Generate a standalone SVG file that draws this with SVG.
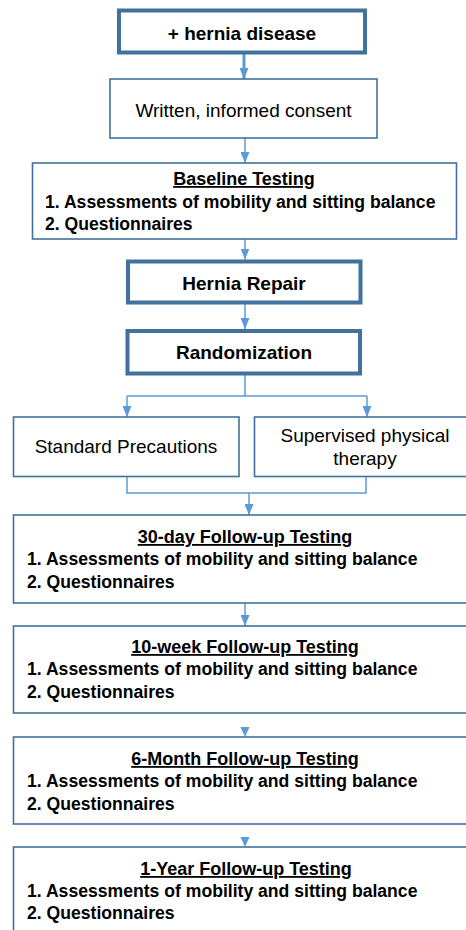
<svg xmlns="http://www.w3.org/2000/svg" width="466" height="930" viewBox="0 0 466 930">
<defs>
<style>
text{font-family:"Liberation Sans",Arial,sans-serif;fill:#000}
.thick{fill:#fff;stroke:#41719C;stroke-width:4}
.thin{fill:#fff;stroke:#41719C;stroke-width:1.6}
.t19{font-size:19px;text-anchor:middle}
.b{font-weight:bold}
.h{font-size:18px;font-weight:bold;text-anchor:middle;text-decoration:underline}
.li{font-size:17.6px;font-weight:bold}
.c{fill:none;stroke:#5B9BD5;stroke-width:1.5}
.head{fill:#5B9BD5}
</style>
<marker id="ah" markerWidth="11" markerHeight="9" refX="11" refY="4.5" orient="auto" markerUnits="userSpaceOnUse">
<path d="M0,0 L11,4.5 L0,9 Z" fill="#5B9BD5"/>
</marker>
</defs>
<g id="connectors">
<line class="c" x1="244" y1="54" x2="244" y2="79" style="stroke-width:3" marker-end="url(#ah)"/>
<line class="c" x1="245" y1="138" x2="245" y2="163" marker-end="url(#ah)"/>
<line class="c" x1="245" y1="239" x2="245" y2="259.5" marker-end="url(#ah)"/>
<line class="c" x1="245" y1="303" x2="245" y2="329" marker-end="url(#ah)"/>
<path class="c" d="M245,375 V396 M127,396 H367"/>
<line class="c" x1="127" y1="396" x2="127" y2="417" marker-end="url(#ah)"/>
<line class="c" x1="367" y1="396" x2="367" y2="417" marker-end="url(#ah)"/>
<path class="c" d="M127,476 V493 H366 V476"/>
<line class="c" x1="249" y1="493" x2="249" y2="515" marker-end="url(#ah)"/>
<line class="c" x1="245" y1="603" x2="245" y2="626" marker-end="url(#ah)"/>
<path class="head" d="M240.5,727 L249.5,727 L245,737 Z"/>
<path class="head" d="M240.5,837 L249.5,837 L245,847 Z"/>
</g>
<g id="hernia-disease">
<rect class="thick" x="119" y="10.5" width="246" height="42"/>
<text class="t19 b" x="242" y="40">+ hernia disease</text>
</g>
<g id="consent">
<rect class="thin" x="110" y="79" width="267" height="59"/>
<text class="t19" x="243.5" y="117">Written, informed consent</text>
</g>
<g id="baseline">
<rect class="thin" x="32.5" y="163" width="424" height="76"/>
<text class="h" x="244" y="185">Baseline Testing</text>
<text class="li" x="45" y="208">1. Assessments of mobility and sitting balance</text>
<text class="li" x="45" y="230">2. Questionnaires</text>
</g>
<g id="hernia-repair">
<rect class="thick" x="128" y="261.5" width="232.5" height="41"/>
<text class="t19 b" x="244" y="290">Hernia Repair</text>
</g>
<g id="randomization">
<rect class="thick" x="127.5" y="331" width="232.5" height="42.5"/>
<text class="t19 b" x="244" y="359">Randomization</text>
</g>
<g id="standard">
<rect class="thin" x="13.5" y="417" width="225.5" height="59.5"/>
<text class="t19" x="126" y="453">Standard Precautions</text>
</g>
<g id="supervised">
<rect class="thin" x="254.5" y="417" width="216" height="59.5"/>
<text class="t19" x="365" y="442">Supervised physical</text>
<text class="t19" x="365" y="465">therapy</text>
</g>
<g id="day30">
<rect class="thin" x="13.5" y="515" width="457" height="88"/>
<text class="h" x="245" y="543">30-day Follow-up Testing</text>
<text class="li" x="27" y="565">1. Assessments of mobility and sitting balance</text>
<text class="li" x="27" y="588">2. Questionnaires</text>
</g>
<g id="week10">
<rect class="thin" x="13.5" y="626" width="457" height="87"/>
<text class="h" x="245" y="653">10-week Follow-up Testing</text>
<text class="li" x="27" y="675">1. Assessments of mobility and sitting balance</text>
<text class="li" x="27" y="698">2. Questionnaires</text>
</g>
<g id="month6">
<rect class="thin" x="13.5" y="737" width="457" height="87"/>
<text class="h" x="245" y="765">6-Month Follow-up Testing</text>
<text class="li" x="27" y="787">1. Assessments of mobility and sitting balance</text>
<text class="li" x="27" y="810">2. Questionnaires</text>
</g>
<g id="year1">
<rect class="thin" x="13.5" y="847" width="457" height="90"/>
<text class="h" x="246" y="875">1-Year Follow-up Testing</text>
<text class="li" x="27" y="897">1. Assessments of mobility and sitting balance</text>
<text class="li" x="27" y="919">2. Questionnaires</text>
</g>
</svg>
